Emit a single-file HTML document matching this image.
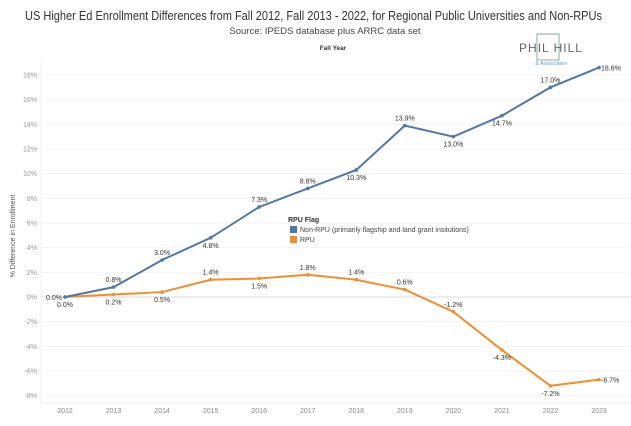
<!DOCTYPE html>
<html><head><meta charset="utf-8"><style>
body{margin:0;background:#fff;font-family:"Liberation Sans",sans-serif}
svg text{font-family:"Liberation Sans",sans-serif}
</style></head><body>
<svg id="c" width="631" height="421" viewBox="0 0 631 421">
<text x="25" y="20" textLength="577" lengthAdjust="spacingAndGlyphs" font-size="12.5" fill="#333">US Higher Ed Enrollment Differences from Fall 2012, Fall 2013 - 2022, for Regional Public Universities and Non-RPUs</text>
<text x="325" y="34" text-anchor="middle" font-size="9.5" fill="#444">Source: IPEDS database plus ARRC data set</text>
<text x="333" y="50" text-anchor="middle" font-size="6.5" font-weight="bold" fill="#333">Fall Year</text>
<g>
<rect x="537" y="34" width="22" height="26" fill="none" stroke="#8aa" stroke-width="1"/>
<text x="551" y="52" text-anchor="middle" font-size="12" fill="#666" letter-spacing="1">PHIL HILL</text>
<text x="551" y="65" text-anchor="middle" font-size="5.5" fill="#5aa0d8">&amp; Associates</text>
</g>
<text transform="translate(15,236) rotate(-90)" text-anchor="middle" font-size="7" fill="#555">% Difference in Enrollment</text>
<g id="grid"></g><g id="marks"></g>
<g>
<text x="288" y="222" font-size="7" font-weight="bold" fill="#333">RPU Flag</text>
<rect x="290" y="226" width="7" height="7" fill="#4e79a7"/>
<text x="300" y="232" font-size="7" fill="#444">Non-RPU (primarily flagship and land grant insitutions)</text>
<rect x="290" y="236" width="7" height="7" fill="#f28e2b"/>
<text x="300" y="242" font-size="7" fill="#444">RPU</text>
</g>
</svg>
<script>
const years=[2012,2013,2014,2015,2016,2017,2018,2019,2020,2021,2022,2023];
const nonRpu=[0,0.8,3.0,4.8,7.3,8.8,10.3,13.9,13.0,14.7,17.0,18.6];
const rpu=[0,0.2,0.4,1.4,1.5,1.8,1.4,0.6,-1.2,-4.3,-7.2,-6.7];
const rpuLabels=[0,0.2,0.5,1.4,1.5,1.8,1.4,0.6,-1.2,-4.3,-7.2,-6.7];
const yTicks=[-8,-6,-4,-2,0,2,4,6,8,10,12,14,16,18];
const nonPos=['l','a','a','b','a','a','b','a','b','b','a','r'];
const rpuPos=['b','b','b','a','b','a','a','a','a','b','b','r'];
const NS='http://www.w3.org/2000/svg';
const x=i=>65+i*(599-65)/(years.length-1);
const y=v=>297-v*(297-75)/18;
function mk(t,a,p){const e=document.createElementNS(NS,t);for(const k in a)e.setAttribute(k,a[k]);p.appendChild(e);return e;}
const grid=document.getElementById('grid'),marks=document.getElementById('marks');
yTicks.forEach(t=>{
 const l=mk('line',{x1:41,x2:631,y1:y(t),y2:y(t),stroke:t===0?'#ddd':'#f2f2f2','stroke-width':1},grid);
 
 
 const tx=mk('text',{x:37,y:y(t)+2.5,'text-anchor':'end','font-size':7,fill:'#999'},grid);
 tx.textContent=t+'%';
 
 
});
mk('line',{x1:41,x2:41,y1:62,y2:403,stroke:'#eee'},grid);
mk('line',{x1:41,x2:631,y1:403,y2:403,stroke:'#eee'},grid);
years.forEach((yr,i)=>{
 const tx=mk('text',{x:x(i),y:413,'text-anchor':'middle','font-size':7,fill:'#888'},grid);
 tx.textContent=yr;
 
 
});
function series(vals,labs,pos,col,name){
 const p=mk('polyline',{points:vals.map((v,i)=>x(i)+','+y(v)).join(' '),fill:'none',stroke:col,'stroke-width':2},marks);
 
 
 vals.forEach((v,i)=>{
  const c=mk('circle',{cx:x(i),cy:y(v),r:1.8,fill:col},marks);
  
  
  const ps=pos[i];let lx=x(i),ly=y(v),an='middle';
  if(ps==='a')ly-=5;else if(ps==='b')ly+=10;else if(ps==='l'){lx-=3;ly+=3;an='end';}else{lx+=2;ly+=3;an='start';}
  const t=mk('text',{x:lx,y:ly,'text-anchor':an,'font-size':7,fill:'#333'},marks);
  t.textContent=labs[i].toFixed(1)+'%';
  
  
 });
}
series(rpu,rpuLabels,rpuPos,'#f28e2b','rpu');
series(nonRpu,nonRpu,nonPos,'#4e79a7','non-rpu');
</script>
</body></html>
